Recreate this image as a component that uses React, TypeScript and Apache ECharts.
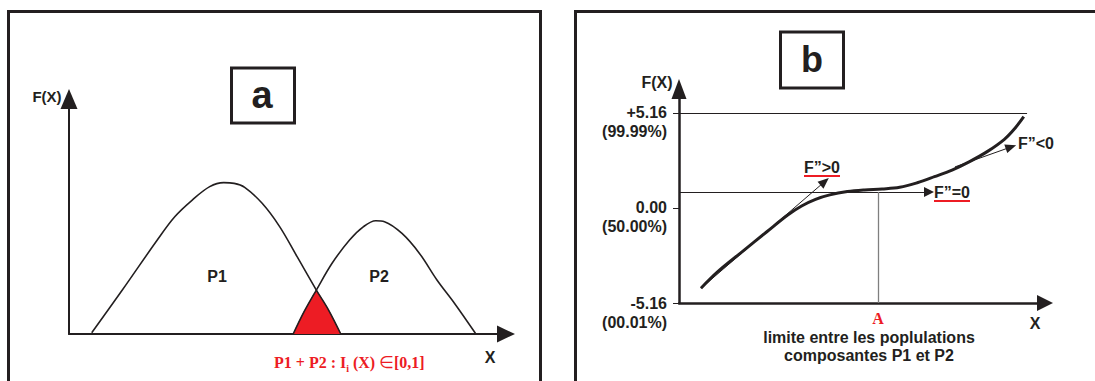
import React, { useEffect, useRef } from "react";
import * as echarts from "echarts";

// ---------- Panel a : two population density curves ----------
const p1Curve: number[][] = [
  [5.2, 0.5], [12.2, 18.7], [20.2, 40.0], [24.2, 49.9], [28.2, 57.0], [32.2, 62.7],
  [35.4, 64.4], [37.8, 64.1], [40.2, 62.4], [44.2, 55.6], [48.2, 45.7], [52.2, 32.9],
  [56.6, 18.7], [59.4, 10.2], [62.2, 0],
];
const p2Curve: number[][] = [
  [51.3, 0], [53.8, 9.5], [56.6, 18.7], [60.2, 30.1], [64.2, 40.0], [67.4, 45.7],
  [70.2, 48.2], [72.2, 47.8], [76.2, 42.8], [80.2, 34.3], [84.2, 23.0], [88.2, 13.1],
  [93.0, 0.3],
];
const overlapArea: number[][] = [[51.3, 0], [53.8, 9.5], [56.6, 18.7], [59.4, 10.2], [62.2, 0]];

// ---------- Panel b : cumulative (probit) curve ----------
const cumulativeCurve: number[][] = [
  [6.0, -4.36], [10.6, -3.46], [17.3, -2.37], [24.0, -1.29], [29.7, -0.38], [33.5, 0.11],
  [37.3, 0.47], [41.2, 0.71], [46.0, 0.89], [50.7, 0.98], [55.5, 1.03], [60.3, 1.12],
  [65.1, 1.37], [69.8, 1.7], [74.6, 2.06], [79.4, 2.52], [84.2, 3.06], [88.9, 3.73],
  [91.8, 4.33], [94.2, 4.96],
];
const yTicksB: number[] = [-5.16, 0, 5.16];
const yTickLabelsB: string[] = ["-5.16\n(00.01%)", "0.00\n(50.00%)", "+5.16\n(99.99%)"];
const topLine: number[][] = [[0, 5.16], [95.1, 5.16]];
const inflectionLine: number[][] = [[0, 0.87], [68.3, 0.87]];
const limitLine: number[][] = [[54.4, -5.16], [54.4, 0.87]];
const tangentPositive: number[][] = [[6.0, -4.36], [39.8, 1.43]];
const tangentNegative: number[][] = [[75.4, 2.23], [90.7, 3.31]];

const INK = "#231f20";
const RED = "#ed1c24";
const SANS = '"Liberation Sans", Arial, sans-serif';
const SERIF = '"Liberation Serif", "Times New Roman", serif';

function txt(x: number, y: number, text: string, size: number, opts: any = {}) {
  return {
    type: "text",
    x,
    y,
    silent: true,
    style: {
      text,
      fontSize: size,
      fontWeight: "bold",
      fontFamily: opts.family || SANS,
      fill: opts.fill || INK,
      align: opts.align || "center",
      verticalAlign: "middle",
    },
  };
}

function arrowLine(pts: number[][], color: string, width: number, arrow: boolean, size: number[] = [9, 11]) {
  return {
    silent: true,
    symbol: arrow ? ["none", "triangle"] : ["none", "none"],
    symbolSize: size,
    label: { show: false },
    lineStyle: { color, width, type: "solid" },
    data: [[{ coord: pts[0] }, { coord: pts[1] }]],
  };
}

export default function App() {
  const ref = useRef<HTMLDivElement>(null);

  useEffect(() => {
    document.body.style.margin = "0";
    if (!ref.current) return;
    const chart = echarts.init(ref.current, undefined, { renderer: "svg" });

    const hiddenAxisA = {
      axisTick: { show: false },
      axisLabel: { show: false },
      splitLine: { show: false },
    };

    const option: any = {
      animation: false,
      backgroundColor: "#ffffff",
      grid: [
        { left: 69, top: 99, width: 437, height: 235 },
        { left: 679, top: 89, width: 366, height: 214 },
      ],
      xAxis: [
        {
          gridIndex: 0, type: "value", min: 0, max: 100, ...hiddenAxisA,
          axisLine: { onZero: false, symbol: ["none", "triangle"], symbolSize: [17, 18], lineStyle: { color: INK, width: 2 } },
        },
        {
          gridIndex: 1, type: "value", min: 0, max: 100, ...hiddenAxisA,
          axisLine: { onZero: false, symbol: ["none", "triangle"], symbolSize: [16, 16], lineStyle: { color: INK, width: 2.5 } },
        },
      ],
      yAxis: [
        {
          gridIndex: 0, type: "value", min: 0, max: 100, ...hiddenAxisA,
          axisLine: { onZero: false, symbol: ["none", "triangle"], symbolSize: [17, 20], lineStyle: { color: INK, width: 2 } },
        },
        {
          gridIndex: 1, type: "value", min: -5.16, max: 6.46,
          splitLine: { show: false },
          axisLine: { onZero: false, symbol: ["none", "triangle"], symbolSize: [15, 20], lineStyle: { color: INK, width: 2.5 } },
          axisTick: { show: true, customValues: yTicksB, length: 6, lineStyle: { color: INK, width: 1 } },
          axisLabel: {
            show: true,
            customValues: yTicksB,
            formatter: (v: number) => {
              let best = 0;
              yTicksB.forEach((t, i) => { if (Math.abs(t - v) < Math.abs(yTicksB[best] - v)) best = i; });
              return " \n" + yTickLabelsB[best];
            },
            fontSize: 16,
            fontWeight: "bold",
            fontFamily: SANS,
            color: INK,
            margin: 12,
            lineHeight: 19,
            align: "right",
            verticalAlign: "middle",
          },
        },
      ],
      series: [
        {
          name: "P1∩P2", type: "line", xAxisIndex: 0, yAxisIndex: 0, data: overlapArea,
          symbol: "none", smooth: false, lineStyle: { color: RED, width: 1 },
          areaStyle: { color: RED, opacity: 1 }, z: 1,
        },
        {
          name: "P1", type: "line", xAxisIndex: 0, yAxisIndex: 0, data: p1Curve,
          symbol: "none", smooth: 0.35, lineStyle: { color: INK, width: 1.6 }, z: 3,
        },
        {
          name: "P2", type: "line", xAxisIndex: 0, yAxisIndex: 0, data: p2Curve,
          symbol: "none", smooth: 0.35, lineStyle: { color: INK, width: 1.6 }, z: 3,
        },
        {
          name: "F(X)", type: "line", xAxisIndex: 1, yAxisIndex: 1, data: cumulativeCurve,
          symbol: "none", smooth: 0.35, lineStyle: { color: INK, width: 3 }, z: 4,
        },
        {
          name: "top", type: "line", xAxisIndex: 1, yAxisIndex: 1, data: [],
          symbol: "none", markLine: arrowLine(topLine, INK, 1, false),
        },
        {
          name: "inflexion", type: "line", xAxisIndex: 1, yAxisIndex: 1, data: [],
          symbol: "none", markLine: arrowLine(inflectionLine, INK, 1, true, [10, 10]),
        },
        {
          name: "limite", type: "line", xAxisIndex: 1, yAxisIndex: 1, data: [],
          symbol: "none", markLine: arrowLine(limitLine, "#7f7f7f", 1.3, false),
        },
        {
          name: "tanPos", type: "line", xAxisIndex: 1, yAxisIndex: 1, data: [],
          symbol: "none", markLine: arrowLine(tangentPositive, INK, 1, true, [9, 11]),
        },
        {
          name: "tanNeg", type: "line", xAxisIndex: 1, yAxisIndex: 1, data: [],
          symbol: "none", markLine: arrowLine(tangentNegative, INK, 1, true, [9, 11]),
        },
      ],
      graphic: [
        // frames
        { type: "rect", shape: { x: 8.5, y: 11.5, width: 532, height: 420 }, style: { fill: "none", stroke: INK, lineWidth: 3 }, silent: true },
        { type: "rect", shape: { x: 575.5, y: 11.5, width: 600, height: 420 }, style: { fill: "none", stroke: INK, lineWidth: 3 }, silent: true },
        // panel letters
        { type: "rect", shape: { x: 231.5, y: 68, width: 63, height: 55 }, style: { fill: "none", stroke: INK, lineWidth: 3 }, silent: true },
        txt(262, 95, "a", 38),
        { type: "rect", shape: { x: 780.5, y: 32, width: 63, height: 56 }, style: { fill: "none", stroke: INK, lineWidth: 3 }, silent: true },
        txt(812, 59, "b", 36),
        // panel a texts
        txt(47, 96, "F(X)", 15),
        txt(490, 357, "X", 16),
        txt(217, 276, "P1", 16),
        txt(379, 276, "P2", 16),
        {
          type: "text", x: 274, y: 362, silent: true,
          style: {
            text: "{m|P1 + P2 : I}{s|i}{m| (X) }{e|∈}{m|[0,1]}",
            align: "left", verticalAlign: "middle",
            rich: {
              m: { fontSize: 16, fontWeight: "bold", fontFamily: SERIF, fill: RED, lineHeight: 22, verticalAlign: "middle" },
              s: { fontSize: 10, fontWeight: "bold", fontFamily: SERIF, fill: RED, lineHeight: 10, verticalAlign: "bottom" },
              e: { fontSize: 17, fontFamily: '"DejaVu Sans", sans-serif', fill: RED, lineHeight: 22, verticalAlign: "middle" },
            },
          },
        },
        // panel b texts
        txt(657, 82, "F(X)", 16),
        txt(1035, 323, "X", 16),
        txt(822, 167, "F”>0", 16),
        { type: "line", shape: { x1: 804, y1: 176, x2: 840, y2: 176 }, style: { stroke: RED, lineWidth: 2 }, silent: true },
        txt(952, 192, "F”=0", 16),
        { type: "line", shape: { x1: 934, y1: 201, x2: 970, y2: 201 }, style: { stroke: RED, lineWidth: 2 }, silent: true },
        txt(1036, 143, "F”<0", 16),
        txt(878, 318, "A", 16, { family: SERIF, fill: RED }),
        txt(869, 337, "limite entre les poplulations", 16),
        txt(869, 355, "composantes P1 et P2", 16),
      ],
    };

    chart.setOption(option);
    return () => chart.dispose();
  }, []);

  return <div ref={ref} style={{ width: 1095, height: 381 }} />;
}
